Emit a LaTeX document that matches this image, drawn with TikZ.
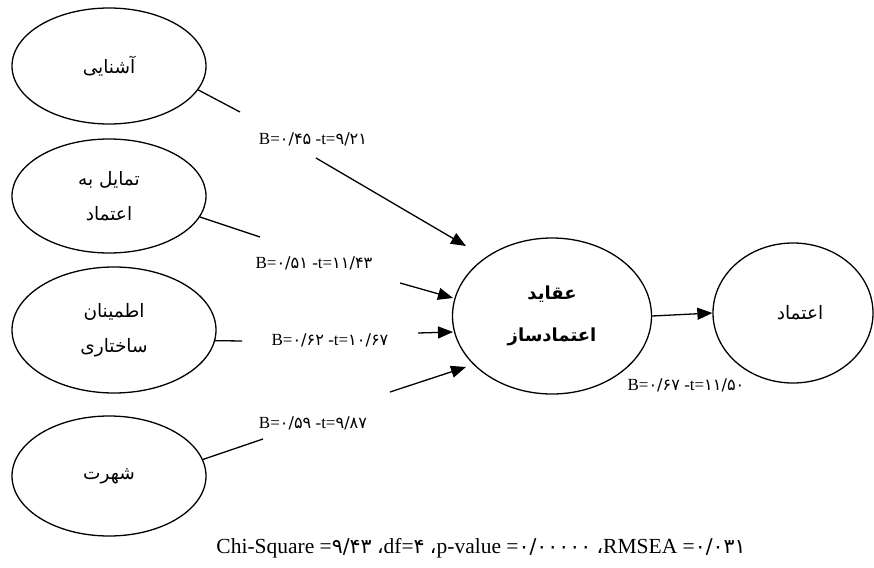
\documentclass[tikz,border=0pt]{standalone}
\usepackage{fontspec}
\setmainfont{Liberation Serif}
\newfontfamily\fa[Script=Arabic]{DejaVu Sans}
\newfontfamily\dg[Scale=0.95]{DejaVu Sans}
\TeXXeTstate=1
\usetikzlibrary{arrows.meta,shapes.geometric}
\newcommand\rl[1]{\beginR #1\endR}
\newcommand\nd[1]{{\dg #1}}
\begin{document}
\begin{tikzpicture}[x=1pt,y=-1pt,
  oval/.style={ellipse, draw, line width=1.3pt, inner sep=0pt, align=center,
    font=\fa\fontsize{18.5}{37}\selectfont},
  conn/.style={line width=1.3pt},
  arr/.style={line width=1.3pt, -{Triangle[length=15pt,width=12pt]}},
  lbl/.style={font=\fontsize{17}{20}\selectfont, inner sep=1pt}]
\useasboundingbox (0,0) rectangle (874,567);

% ellipses
\node[oval, minimum width=194pt, minimum height=116pt] (a1) at (109,66) {\rl{آشنایی}};
\node[oval, minimum width=194pt, minimum height=114pt] (a2) at (109,196) {\rl{تمایل به}\\[-2pt]\rl{اعتماد}};
\node[oval, minimum width=204pt, minimum height=126pt] (a3) at (114,330) {\rl{اطمینان}\\[-2pt]\rl{ساختاری}};
\node[oval, minimum width=194pt, minimum height=120pt] (a4) at (109,476) {\rl{شهرت}};
\node[oval, minimum width=199pt, minimum height=156pt,
  font=\fa\bfseries\fontsize{18}{42}\selectfont] (c) at (552,316) {\rl{عقاید}\\\rl{اعتمادساز}};
\node[oval, minimum width=160pt, minimum height=140pt] (r) at (793,313) {\hspace*{14pt}\rl{اعتماد}};

% gap and tip coordinates
\coordinate (g1s) at (240,112); \coordinate (g1e) at (316,158); \coordinate (h1) at (466,246);
\coordinate (g2s) at (260,237); \coordinate (g2e) at (400,283); \coordinate (h2) at (453,298);
\coordinate (g3s) at (242,341); \coordinate (g3e) at (418,333); \coordinate (h3) at (453,332);
\coordinate (g4s) at (263,439); \coordinate (g4e) at (390,392); \coordinate (h4) at (466,367);

% connectors
\draw[conn] (a1.-15) -- (g1s);
\draw[arr] (g1e) -- (h1);
\draw[conn] (a2.-13) -- (g2s);
\draw[arr] (g2e) -- (h2);
\draw[conn] (a3.-6) -- (g3s);
\draw[arr] (g3e) -- (h3);
\draw[conn] (a4.10) -- (g4s);
\draw[arr] (g4e) -- (h4);
\draw[arr] (c.east) -- (r.west);

% labels
\node[lbl] (l1) at (313,139) {B=\nd{۰/۴۵} -t=\nd{۹/۲۱}};
\node[lbl] (l2) at (314,263) {B=\nd{۰/۵۱} -t=\nd{۱۱/۴۳}};
\node[lbl] (l3) at (330,340) {B=\nd{۰/۶۲} -t=\nd{۱۰/۶۷}};
\node[lbl] (l4) at (313,423) {B=\nd{۰/۵۹} -t=\nd{۹/۸۷}};
\node[lbl, fill=white] (l5) at (686,385) {B=\nd{۰/۶۷} -t=\nd{۱۱/۵۰}};

\node[font=\fontsize{21.5}{24}\selectfont, inner sep=0pt] (chi) at (481,548)
  {Chi-Square =\nd{۹/۴۳} \nd{،}df=\nd{۴} \nd{،}p-value =\nd{۰/۰۰۰۰۰} \nd{،}RMSEA =\nd{۰/۰۳۱}};
\end{tikzpicture}
\end{document}
